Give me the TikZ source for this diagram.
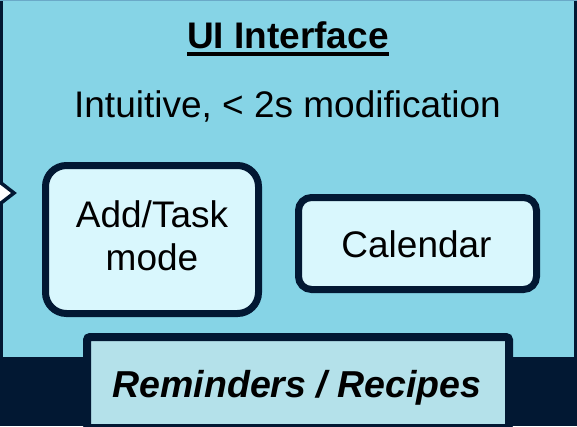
\documentclass[tikz,border=0pt]{standalone}
\usepackage{fontspec}
\setmainfont{Liberation Sans}
\definecolor{panel}{HTML}{86D4E6}
\definecolor{navy}{HTML}{021833}
\definecolor{boxfill}{HTML}{D9F7FD}
\definecolor{remfill}{HTML}{B4E1EA}
\definecolor{topline}{HTML}{6AA9C8}
\tikzset{
  bigtext/.style={font=\fontsize{37}{43}\selectfont, inner sep=0pt, anchor=base, text=black},
  roundbox/.style={draw=navy, line width=7pt, fill=boxfill, inner sep=0pt},
}
\begin{document}
\begin{tikzpicture}[x=1pt,y=-1pt]
\useasboundingbox (0,0) rectangle (577,426);
\clip (0,0) rectangle (577,426);
% container
\fill[panel] (0,0) rectangle (577,426);
\fill[navy] (0,357) rectangle (577,426);
\fill[navy] (0,0) rectangle (2.5,426);
\fill[navy] (574,0) rectangle (577,426);
\fill[topline] (0,0) rectangle (577,1);
% incoming arrow tip
\draw[draw=navy, fill=white, line width=3.5pt, miter limit=10] (-8,176) -- (14,193) -- (-8,210) -- cycle;
% title
\node[bigtext, font=\bfseries\fontsize{37}{43}\selectfont] (title) at (288,48) {UI Interface};
\draw[line width=4pt] ([yshift=-6pt]title.base west) -- ([yshift=-6pt]title.base east);
\node[bigtext] (sub) at (287.5,117) {Intuitive, < 2s modification};
% Add/Task box
\node[roundbox, rounded corners=21pt, minimum width=213pt, minimum height=148pt] (add) at (152,239.5) {};
\node[bigtext] (addt1) at (152,227) {Add/Task};
\node[bigtext] (addt2) at (152,270) {mode};
% Calendar box
\node[roundbox, rounded corners=13pt, minimum width=238pt, minimum height=92pt] (cal) at (417.5,243.5) {};
\node[bigtext] (calt) at (416.5,257) {Calendar};
% Reminders box
\node[draw=navy, line width=8pt, fill=remfill, rounded corners=3pt, minimum width=422pt, minimum height=91pt, inner sep=0pt] (rem) at (298,382.5) {};
\node[bigtext, font=\bfseries\itshape\fontsize{37.5}{43}\selectfont] (remt) at (297,397) {Reminders / Recipes};
\end{tikzpicture}
\end{document}
